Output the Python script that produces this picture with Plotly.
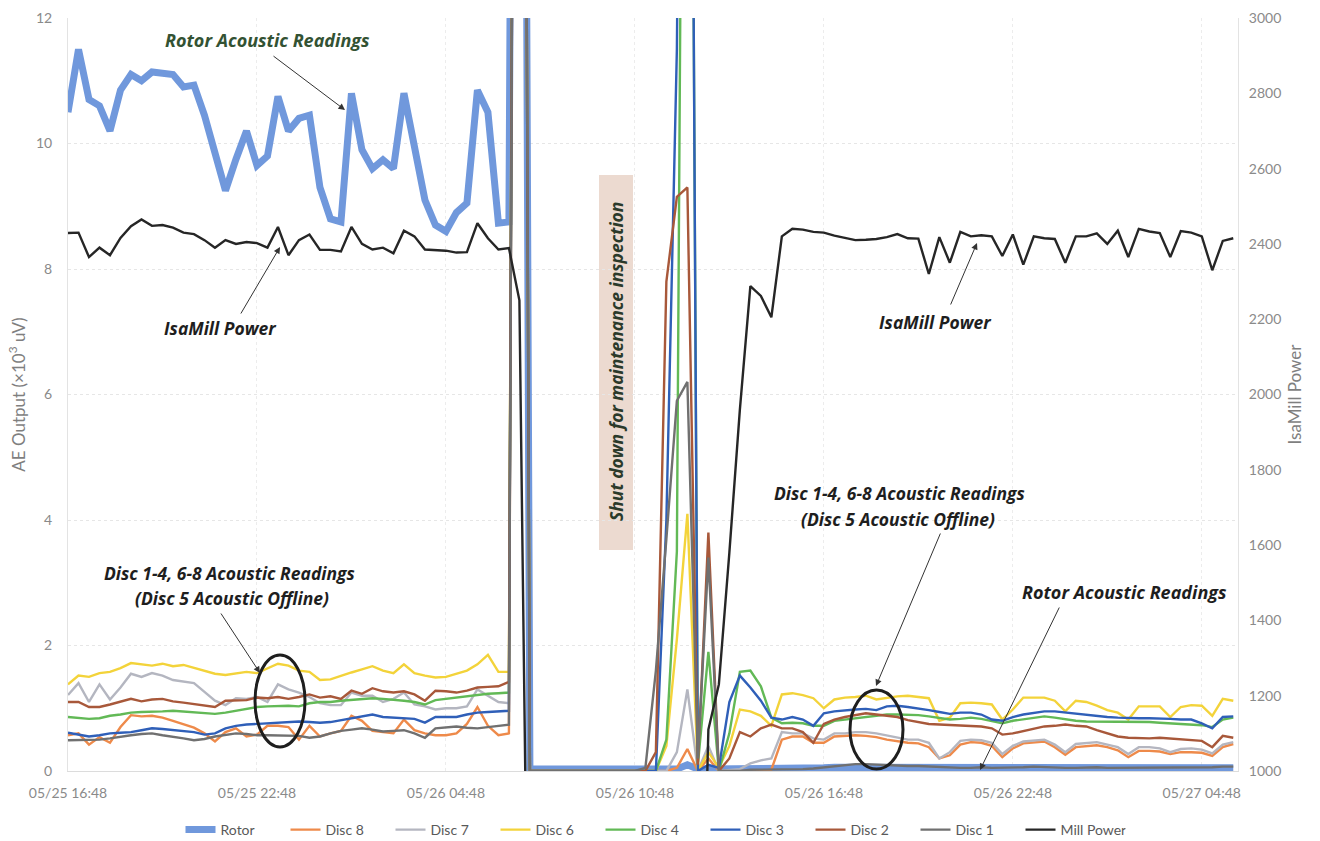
import pandas as pd
import plotly.graph_objects as go

# ---------------- data (20-minute samples, starting 05/25 16:48) ----------------
start_time = "2021-05-25 16:48"
n_points = 112

rotor = [10.5, 11.5, 10.7, 10.6, 10.2, 10.85, 11.1, 11.0, 11.14, 11.12, 11.1, 10.9, 10.93, 10.45, 9.8,
         9.25, 9.75, 10.2, 9.65, 9.8, 10.75, 10.2, 10.4, 10.45, 9.3, 8.8, 8.75, 10.8, 9.9, 9.6, 9.74,
         9.6, 10.8, 10.0, 9.1, 8.7, 8.6, 8.9, 9.05, 10.85, 10.5, 8.73, 8.75,
         40,
         0.03, 0.03, 0.03, 0.03, 0.03, 0.03, 0.03, 0.03, 0.03, 0.03, 0.03, 0.03, 0.03, 0.03, 0.03,
         0.1, 0.03, 0.03,
         0.03, 0.04, 0.04, 0.04, 0.04, 0.04, 0.04, 0.05, 0.05, 0.05, 0.05, 0.06, 0.06, 0.06, 0.06,
         0.06, 0.06, 0.05, 0.05, 0.05, 0.05, 0.05, 0.05, 0.05, 0.05, 0.05, 0.05, 0.05, 0.05, 0.05,
         0.05, 0.05, 0.05, 0.05, 0.05, 0.05, 0.05, 0.05, 0.05, 0.05, 0.05, 0.05, 0.05, 0.05, 0.05,
         0.05, 0.05, 0.05, 0.05, 0.05]

disc8 = [0.57, 0.6, 0.42, 0.54, 0.45, 0.7, 0.89, 0.87, 0.88, 0.85, 0.8, 0.74, 0.69, 0.6, 0.47, 0.62,
         0.68, 0.55, 0.58, 0.72, 0.72, 0.7, 0.5, 0.72, 0.55, 0.6, 0.64, 0.88, 0.8, 0.64, 0.62, 0.6,
         0.82, 0.65, 0.6, 0.57, 0.57, 0.6, 0.75, 1.02, 0.72, 0.57, 0.6,
         40,
         0, 0, 0, 0, 0, 0, 0, 0, 0, 0, 0,
         0, 0, 0, 0.05, 0.35, 0, 0.2,
         0.0, 0.0, 0.0, 0.0, 0.0, 0.02, 0.5, 0.55, 0.55, 0.45, 0.45, 0.55, 0.56, 0.57, 0.56, 0.54,
         0.5, 0.47, 0.45, 0.44, 0.38, 0.2, 0.25, 0.42, 0.46, 0.45, 0.4, 0.22, 0.36, 0.44, 0.46, 0.47,
         0.38, 0.26, 0.38, 0.4, 0.41, 0.38, 0.33, 0.22, 0.32, 0.32, 0.31, 0.27, 0.3, 0.3, 0.29, 0.24,
         0.38, 0.43]

disc7 = [1.21, 1.4, 1.1, 1.38, 1.14, 1.33, 1.55, 1.5, 1.56, 1.52, 1.45, 1.43, 1.4, 1.26, 1.12, 1.05,
         1.16, 1.15, 1.18, 1.1, 1.38, 1.3, 1.25, 1.18, 1.08, 1.05, 1.05, 1.25, 1.2, 1.2, 1.1, 1.15,
         1.25, 1.06, 1.03, 0.98, 1.0, 1.0, 1.03, 1.3, 1.2, 1.1, 1.08,
         40,
         0, 0, 0, 0, 0, 0, 0, 0, 0, 0, 0,
         0, 0, 0, 0.3, 1.3, 0, 0.4,
         0.0, 0.02, 0.03, 0.12, 0.17, 0.2, 0.62, 0.6, 0.6, 0.52, 0.5, 0.6, 0.6, 0.62, 0.62, 0.6,
         0.57, 0.53, 0.5, 0.5, 0.45, 0.2, 0.3, 0.48, 0.5, 0.49, 0.45, 0.27, 0.4, 0.47, 0.49, 0.5,
         0.42, 0.3, 0.43, 0.45, 0.46, 0.42, 0.38, 0.27, 0.38, 0.38, 0.36, 0.3, 0.35, 0.36, 0.34, 0.28,
         0.42, 0.46]

disc6 = [1.38, 1.52, 1.5, 1.56, 1.58, 1.64, 1.72, 1.7, 1.68, 1.71, 1.67, 1.69, 1.64, 1.6, 1.55, 1.53,
         1.56, 1.58, 1.56, 1.64, 1.71, 1.68, 1.6, 1.58, 1.45, 1.46, 1.52, 1.57, 1.62, 1.67, 1.6, 1.56,
         1.7, 1.56, 1.52, 1.49, 1.5, 1.55, 1.6, 1.7, 1.85, 1.58, 1.58,
         40,
         0, 0, 0, 0, 0, 0, 0, 0, 0, 0, 0,
         0, 0, 0.4, 2.1, 4.1, 0, 0.3,
         0.05, 0.4, 0.98, 0.95, 0.88, 0.72, 1.22, 1.24, 1.21, 1.16, 1.0, 1.14, 1.17, 1.18, 1.2, 1.14,
         1.17, 1.19, 1.2, 1.18, 1.16, 0.8, 0.85, 1.08, 1.09, 1.08, 1.06, 0.82, 0.98, 1.17, 1.17, 1.17,
         1.12, 0.95, 1.12, 1.1, 1.04, 0.97, 0.93, 0.82, 1.03, 1.03, 1.03, 0.86, 1.02, 1.05, 1.04, 0.88,
         1.15, 1.12]

disc4 = [0.86, 0.85, 0.83, 0.84, 0.88, 0.9, 0.93, 0.94, 0.94, 0.95, 0.96, 0.95, 0.94, 0.93, 0.91, 0.93,
         0.96, 0.99, 1.02, 1.03, 1.04, 1.04, 1.03, 1.08, 1.1, 1.1, 1.12, 1.13, 1.15, 1.16, 1.15, 1.14,
         1.12, 1.1, 1.06, 1.13, 1.15, 1.18, 1.2, 1.21, 1.23, 1.24, 1.25,
         40,
         0, 0, 0, 0, 0, 0, 0, 0, 0, 0, 0,
         0, 0, 0.5, 3.5, 30, 0.1, 1.9,
         0.0, 0.6, 1.58, 1.6, 1.35, 0.85, 0.76, 0.77, 0.76, 0.72, 0.72, 0.8, 0.82, 0.84, 0.85, 0.87,
         0.9, 0.9, 0.9, 0.89, 0.87, 0.85, 0.82, 0.83, 0.85, 0.83, 0.8, 0.76, 0.8, 0.82, 0.85, 0.87,
         0.85, 0.82, 0.8, 0.79, 0.79, 0.78, 0.78, 0.78, 0.78, 0.78, 0.77, 0.76, 0.76, 0.75, 0.73, 0.7,
         0.82, 0.85]

disc3 = [0.61, 0.58, 0.55, 0.57, 0.6, 0.61, 0.62, 0.65, 0.68, 0.67, 0.65, 0.64, 0.62, 0.58, 0.6, 0.68,
         0.72, 0.74, 0.75, 0.77, 0.78, 0.79, 0.79, 0.78, 0.77, 0.78, 0.81, 0.84, 0.88, 0.9, 0.86, 0.85,
         0.85, 0.83, 0.77, 0.86, 0.86, 0.86, 0.9, 0.93, 0.94, 0.95, 0.96,
         40,
         0, 0, 0, 0, 0, 0, 0, 0, 0, 0, 0,
         0, 0, 4.0, 11.5, 30, 0, 0.1,
         0.05, 1.1, 1.52, 1.33, 1.12, 0.85, 0.82, 0.86, 0.82, 0.72, 0.92, 0.95, 0.97, 0.98, 0.99, 0.97,
         1.03, 1.04, 1.02, 1.0, 0.97, 0.94, 0.91, 0.93, 0.93, 0.9, 0.82, 0.8, 0.86, 0.9, 0.93, 0.95,
         0.95, 0.93, 0.91, 0.89, 0.87, 0.86, 0.85, 0.84, 0.84, 0.84, 0.84, 0.83, 0.82, 0.82, 0.76, 0.68,
         0.86, 0.87]

disc2 = [1.1, 1.1, 1.02, 1.02, 1.06, 1.1, 1.15, 1.11, 1.14, 1.15, 1.11, 1.09, 1.07, 1.05, 1.02, 1.12,
         1.12, 1.13, 1.17, 1.16, 1.18, 1.15, 1.18, 1.22, 1.17, 1.19, 1.15, 1.28, 1.23, 1.32, 1.27, 1.25,
         1.27, 1.22, 1.12, 1.28, 1.27, 1.25, 1.28, 1.33, 1.34, 1.35, 1.42,
         40,
         0, 0, 0, 0, 0, 0, 0, 0, 0, 0, 0,
         0, 0.3, 7.8, 9.15, 9.3, 0.1, 3.8,
         0.0, 0.2, 0.62, 0.55, 0.68, 0.74, 0.68, 0.68, 0.62, 0.45, 0.75, 0.82, 0.86, 0.89, 0.92, 0.9,
         0.88, 0.86, 0.81, 0.78, 0.75, 0.74, 0.73, 0.73, 0.72, 0.71, 0.68, 0.58, 0.6, 0.64, 0.68, 0.71,
         0.72, 0.74, 0.72, 0.71, 0.65, 0.6, 0.55, 0.53, 0.52, 0.52, 0.53, 0.52, 0.51, 0.5, 0.48, 0.38,
         0.56, 0.53]

disc1 = [0.49, 0.49, 0.49, 0.5, 0.52, 0.55, 0.57, 0.59, 0.6, 0.57, 0.55, 0.52, 0.49, 0.51, 0.55, 0.58,
         0.6, 0.59, 0.57, 0.57, 0.57, 0.57, 0.56, 0.53, 0.55, 0.6, 0.64, 0.66, 0.68, 0.66, 0.63, 0.64,
         0.65, 0.6, 0.53, 0.68, 0.7, 0.71, 0.69, 0.68, 0.7, 0.72, 0.74,
         40,
         0, 0, 0, 0, 0, 0, 0, 0, 0, 0, 0,
         0.05, 1.6, 3.7, 5.9, 6.2, 0.2, 3.4,
         0.0, 0.0, 0.0, 0.02, 0.02, 0.02, 0.03, 0.03, 0.03, 0.04, 0.06, 0.08, 0.1, 0.11, 0.11, 0.1,
         0.1, 0.09, 0.08, 0.08, 0.07, 0.06, 0.06, 0.05, 0.05, 0.06, 0.05, 0.05, 0.06, 0.06, 0.07, 0.06,
         0.06, 0.05, 0.05, 0.06, 0.06, 0.05, 0.05, 0.06, 0.06, 0.05, 0.05, 0.06, 0.06, 0.05, 0.06, 0.06,
         0.07, 0.07]

mill_power = [2429, 2430, 2365, 2390, 2370, 2416, 2447, 2465, 2448, 2450, 2443, 2430, 2426, 2410, 2390,
              2410, 2400, 2405, 2402, 2390, 2445, 2370, 2410, 2425, 2384, 2384, 2380, 2445, 2400, 2385,
              2390, 2375, 2435, 2420, 2385, 2384, 2382, 2377, 2378, 2455, 2415, 2385, 2389,
              2250,
              0, 0, 0, 0, 0, 0, 0, 0, 0, 0, 0, 0, 0, 0, 0, 0, 0,
              1110,
              1230, 1580, 1960, 2288, 2262, 2205, 2420, 2440, 2438, 2432, 2430, 2422, 2416, 2410, 2411,
              2413, 2418, 2426, 2415, 2414, 2320, 2418, 2350, 2432, 2420, 2423, 2420, 2368, 2425, 2345,
              2420, 2415, 2413, 2350, 2420, 2420, 2428, 2400, 2435, 2365, 2440, 2433, 2429, 2365, 2434,
              2430, 2420, 2330, 2408, 2415]

series = [
    ("Rotor", rotor, "#7098dc", 7),
    ("Disc 8", disc8, "#ee8a4a", 2.4),
    ("Disc 7", disc7, "#b4b6c0", 2.4),
    ("Disc 6", disc6, "#f3d33a", 2.4),
    ("Disc 4", disc4, "#62b956", 2.4),
    ("Disc 3", disc3, "#2f5fb8", 2.4),
    ("Disc 2", disc2, "#a8583a", 2.4),
    ("Disc 1", disc1, "#707070", 2.4),
]

for _, vals, _, _ in series:
    assert len(vals) == n_points, len(vals)
assert len(mill_power) == n_points, len(mill_power)

times = pd.date_range(start_time, periods=n_points, freq="20min")

fig = go.Figure()
for name, vals, color, width in series:
    fig.add_trace(go.Scatter(x=times, y=vals, name=name, mode="lines",
                             line=dict(color=color, width=width)))
fig.add_trace(go.Scatter(x=times, y=mill_power, name="Mill Power", mode="lines",
                         line=dict(color="#262626", width=2.4), yaxis="y2"))

# ---------------- helpers for pixel-positioned annotations ----------------
L, R, T, B = 68, 82, 18, 70
W, H = 1320, 841
PW, PH = W - L - R, H - T - B


def px(x):
    return (x - L) / PW


def py(y):
    return (H - B - y) / PH


FAM = "Open Sans"
lab_font = dict(family=FAM, size=17.5, color="#1e1e1e")
green_font = dict(family=FAM, size=18, color="#335233")
disc_font = dict(family=FAM, size=17.5, color="#1e1e1e")
rotor2_font = dict(family=FAM, size=18, color="#1e1e1e")

annotations = []


def text(x, y, s, font):
    annotations.append(dict(x=px(x), y=py(y), xref="paper", yref="paper", text=s,
                            showarrow=False, font=font, xanchor="center", yanchor="middle"))


def arrow(hx, hy, tx, ty):
    annotations.append(dict(x=px(hx), y=py(hy), xref="paper", yref="paper", text="",
                            showarrow=True, arrowhead=2, arrowsize=1.3, arrowwidth=1,
                            arrowcolor="#333333", ax=tx - hx, ay=ty - hy))


text(267, 40, "<b><i>Rotor Acoustic Readings</i></b>", green_font)
arrow(345, 110, 272, 55)
text(220, 328, "<b><i>IsaMill Power</i></b>", lab_font)
arrow(280, 247, 240, 315)
text(935, 322, "<b><i>IsaMill Power</i></b>", lab_font)
arrow(977, 243, 950, 306)
text(229, 573, "<b><i>Disc 1-4, 6-8 Acoustic Readings</i></b>", disc_font)
text(232, 598, "<b><i>(Disc 5 Acoustic Offline)</i></b>", disc_font)
arrow(260, 673, 220, 612)
text(899, 493, "<b><i>Disc 1-4, 6-8 Acoustic Readings</i></b>", disc_font)
text(898, 519, "<b><i>(Disc 5 Acoustic Offline)</i></b>", disc_font)
arrow(876, 686, 941, 532)
text(1124, 592, "<b><i>Rotor Acoustic Readings</i></b>", rotor2_font)
arrow(980, 770, 1060, 606)
annotations.append(dict(x=px(616), y=py(362), xref="paper", yref="paper",
                        text="<b><i>Shut down for maintenance inspection</i></b>",
                        textangle=-90, showarrow=False,
                        font=dict(family=FAM, size=17.5, color="#2b3a2b")))

shapes = [
    dict(type="rect", xref="paper", yref="paper", x0=px(599), x1=px(633), y0=py(550), y1=py(175),
         fillcolor="#ecdad0", line=dict(width=0), layer="below"),
    dict(type="circle", xref="paper", yref="paper", x0=px(255), x1=px(305), y0=py(747), y1=py(655),
         line=dict(color="#1e1e1e", width=3)),
    dict(type="circle", xref="paper", yref="paper", x0=px(850), x1=px(903), y0=py(769), y1=py(690),
         line=dict(color="#1e1e1e", width=3)),
]

tick_font = dict(family="Lato", size=14, color="#8a8a8a")
title_font = dict(family="Lato", size=17, color="#7f7f7f")

fig.update_layout(
    width=W, height=H,
    margin=dict(l=L, r=R, t=T, b=B, autoexpand=False),
    plot_bgcolor="white", paper_bgcolor="white",
    showlegend=True,
    legend=dict(orientation="h", x=0.5, xanchor="center", y=py(830), yanchor="middle",
                font=dict(family="Lato", size=14, color="#595959"), entrywidth=60,
                traceorder="normal"),
    xaxis=dict(type="date", range=["2021-05-25 16:48", "2021-05-27 05:57"],
               tick0="2021-05-25 16:48", dtick=6 * 3600 * 1000, tickformat="%m/%d %H:%M",
               tickfont=tick_font, showgrid=True, gridcolor="#ececec", griddash="dot",
               ticks="outside", ticklen=9, tickcolor="rgba(0,0,0,0)",
               showline=True, linecolor="#dcdcdc", zeroline=False),
    yaxis=dict(range=[0, 12], dtick=2, tickfont=tick_font,
               title=dict(text="AE Output (×10<sup>3</sup> uV)", font=title_font, standoff=6),
               showgrid=True, gridcolor="#e6e6e6", griddash="dot", zeroline=False,
               ticks="outside", ticklen=12, tickcolor="rgba(0,0,0,0)",
               showline=True, linecolor="#e3e3e3"),
    yaxis2=dict(range=[1000, 3000], dtick=200, overlaying="y", side="right", tickfont=tick_font,
                title=dict(text="IsaMill Power", font=title_font, standoff=8),
                showgrid=False, zeroline=False,
                ticks="outside", ticklen=7, tickcolor="rgba(0,0,0,0)",
                showline=True, linecolor="#e3e3e3"),
    annotations=annotations,
    shapes=shapes,
)

fig.write_html("out.html", config={"displayModeBar": False},
               post_script="document.body.style.margin='0';")
